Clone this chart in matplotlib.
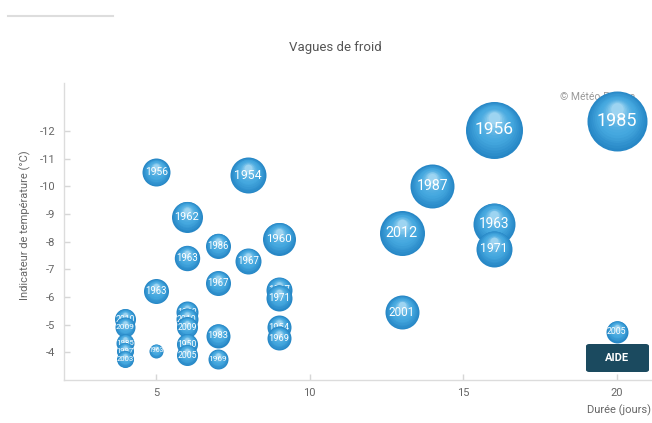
import numpy as np
import matplotlib
matplotlib.use("Agg")
import matplotlib.pyplot as plt
from matplotlib.transforms import offset_copy
from matplotlib.patches import FancyBboxPatch
from matplotlib.lines import Line2D
from matplotlib.colors import to_rgb

plt.rcParams['font.family'] = ['Roboto', 'DejaVu Sans']
plt.rcParams['axes.unicode_minus'] = False

# ---- data ----
duree = [5, 8, 6, 7, 6, 9, 8, 7, 5, 9, 9,
         16, 20, 14, 13, 16, 16, 13, 20,
         9, 9, 7, 7, 5,
         6, 6, 6, 6, 6,
         4, 4, 4, 4, 4]
indicateur = [-10.5, -10.4, -8.9, -7.85, -7.4, -8.1, -7.3, -6.5, -6.2, -6.25, -5.98,
              -12.05, -12.35, -10.0, -8.3, -8.65, -7.75, -5.45, -4.75,
              -4.9, -4.5, -4.6, -3.75, -4.05,
              -5.45, -5.2, -4.9, -4.3, -3.9,
              -5.2, -4.9, -4.35, -4.05, -3.75]
intensite = [14, 18, 15.5, 12.5, 12.7, 16.5, 13, 12.5, 12.5, 13, 13,
             28.5, 30, 22, 22.5, 21, 18, 17, 11,
             12, 12, 12, 10, 7,
             11, 11, 10.5, 10.5, 10.5,
             10.5, 10, 9, 8.5, 8.5]
annees = ['1956', '1954', '1962', '1986', '1963', '1960', '1967', '1967', '1963', '1997', '1971',
          '1956', '1985', '1987', '2012', '1963', '1971', '2001', '2005',
          '1954', '1969', '1983', '1969', '1963',
          '1963', '2010', '2009', '1950', '2005',
          '2010', '2009', '1985', '1997', '2003']
xticks = [5, 10, 15, 20]
yticks = [-12, -11, -10, -9, -8, -7, -6, -5, -4]

W, H, DPI = 652, 423, 100
fig = plt.figure(figsize=(W / DPI, H / DPI), dpi=DPI)
ax = fig.add_axes([64 / W, 43 / H, (W - 64) / W, (380 - 83) / H])
ax.set_xlim(2, 21.15)
ax.set_ylim(-3, -13.73)

def px_radius(z):
    return z  # bubble radius in pixels

edge = np.array(to_rgb('#2787c6'))
mid = np.array(to_rgb('#45a8df'))
light = np.array(to_rgb('#b4e0f6'))

N = 14
for x, y, z, lab in zip(duree, indicateur, intensite, annees):
    r_pt = px_radius(z) * 72 / DPI
    for k in range(N):
        t = 1 - k / N * 0.85
        u = 1 - t
        if u < 0.35:
            c = edge + (mid - edge) * (u / 0.35)
        else:
            c = mid + (light - mid) * ((u - 0.35) / 0.5) ** 1.8
        c = np.clip(c, 0, 1)
        tr = offset_copy(ax.transData, fig=fig, x=0, y=u * 0.5 * r_pt, units='points')
        ax.scatter([x], [y], s=(2 * r_pt * t) ** 2, color=[c], linewidths=0,
                   transform=tr, zorder=3)
    fs = 0.35 * px_radius(z) + 2.5
    ax.text(x, y, lab, ha='center', va='center', color='white', fontsize=fs,
            zorder=3)

ax.set_xticks(xticks)
ax.set_yticks(yticks)
ax.set_yticklabels([str(v) for v in yticks])
ax.tick_params(axis='both', direction='in', colors='#d6d6d6', labelcolor='#666666',
               labelsize=8, length=4, width=1)
ax.tick_params(axis='x', pad=6)
ax.tick_params(axis='y', pad=6)
for s in ['top', 'right']:
    ax.spines[s].set_visible(False)
for s in ['left', 'bottom']:
    ax.spines[s].set_color('#dcdcdc')
    ax.spines[s].set_linewidth(1)

# credit (beneath bubbles)
ax.text(560 / W, 1 - 97 / H, '© Météo-France', transform=fig.transFigure,
        ha='left', va='center', color='#999999', fontsize=7.5, zorder=1)

fig.text(335 / W, 1 - 47 / H, 'Vagues de froid', ha='center', va='center',
         color='#555555', fontsize=9.5)
fig.text(25 / W, 1 - 225 / H, 'Indicateur de température (°C)', rotation=90,
         ha='center', va='center', color='#666666', fontsize=8)
fig.text(587 / W, 1 - 410 / H, 'Durée (jours)', ha='left', va='center',
         color='#666666', fontsize=8)

# top-left control underline
fig.add_artist(Line2D([8 / W, 113 / W], [1 - 16 / H, 1 - 16 / H],
                      transform=fig.transFigure, color='#dddddd', lw=1.5))

# AIDE button
btn = FancyBboxPatch((586 / W, 1 - 372 / H), 63 / W, 28 / H,
                     boxstyle='round,pad=0,rounding_size=0.005',
                     transform=fig.transFigure, facecolor='#1b4a5f',
                     edgecolor='none', zorder=20)
fig.add_artist(btn)
fig.text(617.5 / W, 1 - 358 / H, 'AIDE', ha='center', va='center', color='white',
         fontsize=8, fontweight='bold', zorder=21)

fig.savefig('out.png', dpi=DPI)
